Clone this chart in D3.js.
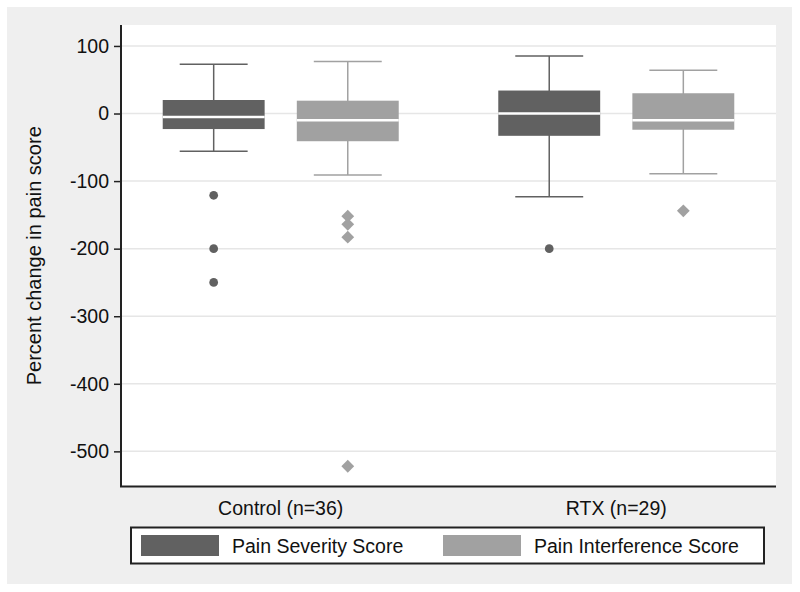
<!DOCTYPE html>
<html>
<head>
<meta charset="utf-8">
<script src="https://cdn.jsdelivr.net/npm/d3@7"></script>
<style>
body { margin: 0; background: #ffffff; }
text { font-family: Arial, "Liberation Sans", sans-serif; }
</style>
</head>
<body>
<div id="chart"></div>
<script>
// dimensions
var width = 800;
var height = 592;

// data
var groups = ["Control (n=36)", "RTX (n=29)"];
var series = ["Pain Severity Score", "Pain Interference Score"];
var colors = ["#616161", "#a1a1a1"];
var yTicks = [100, 0, -100, -200, -300, -400, -500];

// one value per [group][series]
var whiskerHi = [[73, 77], [85, 64]];
var q3 = [[20, 19], [34, 30]];
var median = [[-5, -10], [0, -10]];
var q1 = [[-23, -41], [-33, -24]];
var whiskerLo = [[-56, -91], [-123, -89]];
var outliers = [[[-121, -200, -250], [-152, -164, -183, -522]], [[-200], [-144]]];

var svg = d3.select("#chart")
    .append("svg")
    .attr("width", width)
    .attr("height", height);

// outer gray panel
svg.append("rect")
    .attr("x", 7).attr("y", 7)
    .attr("width", 785).attr("height", 577)
    .attr("fill", "#efefef");

var plot = {left: 121, right: 776, top: 25, bottom: 486.5};

svg.append("rect")
    .attr("x", plot.left).attr("y", plot.top)
    .attr("width", plot.right - plot.left)
    .attr("height", plot.bottom - plot.top)
    .attr("fill", "#ffffff");

var y = d3.scaleLinear()
    .domain([-552, 131])
    .range([plot.bottom, plot.top]);

var x = d3.scalePoint()
    .domain(groups)
    .range([plot.left, plot.right])
    .padding(0.476);

var xs = d3.scaleBand()
    .domain(series)
    .range([-118, 118])
    .paddingInner(0.24);

// grid lines
svg.append("g")
    .selectAll("line")
    .data(yTicks)
    .enter()
    .append("line")
    .attr("x1", plot.left).attr("x2", plot.right)
    .attr("y1", function (d) { return y(d); })
    .attr("y2", function (d) { return y(d); })
    .attr("stroke", "#e6e6e6")
    .attr("stroke-width", 1.5);

// build box records
var boxes = [];
groups.forEach(function (g, gi) {
    series.forEach(function (s, si) {
        boxes.push({
            group: g, series: s, color: colors[si], si: si,
            hi: whiskerHi[gi][si], q3: q3[gi][si], med: median[gi][si],
            q1: q1[gi][si], lo: whiskerLo[gi][si], out: outliers[gi][si]
        });
    });
});

var bw = xs.bandwidth();
function cx(d) { return x(d.group) + xs(d.series) + bw / 2; }

var box = svg.append("g").selectAll("g")
    .data(boxes)
    .enter()
    .append("g");

// whiskers
box.append("line")
    .attr("x1", cx).attr("x2", cx)
    .attr("y1", function (d) { return y(d.hi); })
    .attr("y2", function (d) { return y(d.lo); })
    .attr("stroke", function (d) { return d.color; })
    .attr("stroke-width", 1.5);

["hi", "lo"].forEach(function (k) {
    box.append("line")
        .attr("x1", function (d) { return cx(d) - bw / 3; })
        .attr("x2", function (d) { return cx(d) + bw / 3; })
        .attr("y1", function (d) { return y(d[k]); })
        .attr("y2", function (d) { return y(d[k]); })
        .attr("stroke", function (d) { return d.color; })
        .attr("stroke-width", 1.5);
});

box.append("rect")
    .attr("x", function (d) { return cx(d) - bw / 2; })
    .attr("width", bw)
    .attr("y", function (d) { return y(d.q3); })
    .attr("height", function (d) { return y(d.q1) - y(d.q3); })
    .attr("fill", function (d) { return d.color; });

box.append("line")
    .attr("x1", function (d) { return cx(d) - bw / 2; })
    .attr("x2", function (d) { return cx(d) + bw / 2; })
    .attr("y1", function (d) { return y(d.med); })
    .attr("y2", function (d) { return y(d.med); })
    .attr("stroke", "#ffffff")
    .attr("stroke-width", 2.5);

// outliers: circles for severity, diamonds for interference
var circle = d3.symbol().type(d3.symbolCircle).size(60);
var diamond = d3.symbol().type(d3.symbolSquare).size(82);

box.each(function (d) {
    d3.select(this).selectAll("path.out")
        .data(d.out)
        .enter()
        .append("path")
        .attr("class", "out")
        .attr("d", d.si == 0 ? circle : diamond)
        .attr("transform", function (v) {
            return "translate(" + cx(d) + "," + y(v) + ")" + (d.si == 0 ? "" : " rotate(45)");
        })
        .attr("fill", d.color);
});

// axes
var yAxis = svg.append("g")
    .attr("transform", "translate(" + plot.left + ",0)")
    .call(d3.axisLeft(y).tickValues(yTicks).tickSize(7).tickPadding(5)
        .tickFormat(function (d) { return String(d); }));
yAxis.select(".domain").remove();
yAxis.selectAll(".tick line").attr("stroke", "#222").attr("stroke-width", 1.5);
yAxis.selectAll(".tick text")
    .attr("font-size", "19.5px")
    .attr("font-family", "Arial, 'Liberation Sans', sans-serif")
    .attr("fill", "#111");

svg.append("line")
    .attr("x1", plot.left).attr("x2", plot.left)
    .attr("y1", plot.top).attr("y2", plot.bottom)
    .attr("stroke", "#222").attr("stroke-width", 2);
svg.append("line")
    .attr("x1", plot.left - 1).attr("x2", plot.right)
    .attr("y1", plot.bottom).attr("y2", plot.bottom)
    .attr("stroke", "#222").attr("stroke-width", 2);

// group labels
svg.append("g")
    .selectAll("text")
    .data(groups)
    .enter()
    .append("text")
    .attr("x", function (d) { return x(d); })
    .attr("y", 515)
    .attr("text-anchor", "middle")
    .attr("font-size", "19.5px")
    .attr("fill", "#111")
    .text(function (d) { return d; });

// y title
svg.append("text")
    .attr("transform", "translate(41," + ((plot.top + plot.bottom) / 2) + ") rotate(-90)")
    .attr("text-anchor", "middle")
    .attr("font-size", "20px")
    .attr("fill", "#111")
    .text("Percent change in pain score");

// legend
svg.append("rect")
    .attr("x", 131).attr("y", 527.5)
    .attr("width", 633).attr("height", 36)
    .attr("fill", "#ffffff")
    .attr("stroke", "#222")
    .attr("stroke-width", 2);

var legendX = [141, 443];
var legend = svg.append("g").selectAll("g")
    .data(series)
    .enter()
    .append("g")
    .attr("transform", function (d, i) { return "translate(" + legendX[i] + ",535)"; });

legend.append("rect")
    .attr("width", 78).attr("height", 21)
    .attr("fill", function (d, i) { return colors[i]; });

legend.append("text")
    .attr("x", 91).attr("y", 18)
    .attr("font-size", "19.5px")
    .attr("fill", "#111")
    .text(function (d) { return d; });
</script>
</body>
</html>
